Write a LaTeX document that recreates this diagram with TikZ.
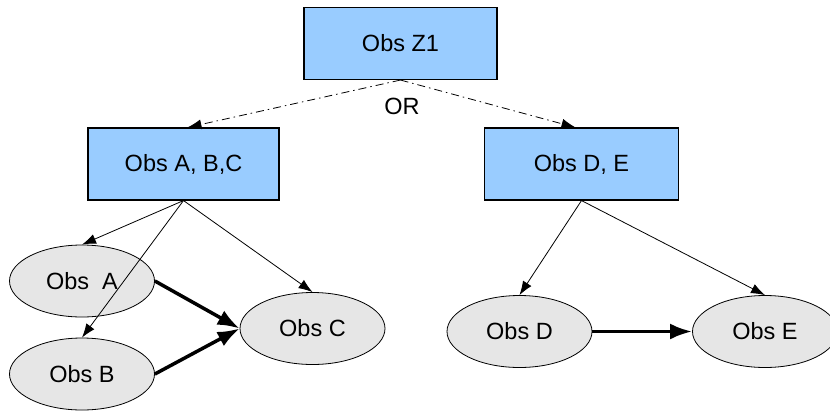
\documentclass[tikz,border=0pt]{standalone}
\usepackage{fontspec}
\setmainfont{Liberation Sans}
\usetikzlibrary{arrows.meta,shapes.geometric}
\definecolor{boxblue}{HTML}{99CCFF}
\definecolor{ellgray}{HTML}{E6E6E6}
\tikzset{
  boxnode/.style={draw=black, line width=1.1pt, fill=boxblue, minimum width=193pt, minimum height=72pt, inner sep=0pt, font=\fontsize{23.5}{27}\selectfont},
  ellnode/.style={ellipse, draw=black, line width=0.8pt, fill=ellgray, minimum width=145pt, minimum height=72pt, inner sep=0pt, font=\fontsize{23.5}{27}\selectfont},
  thinarrow/.style={line width=0.8pt, -{Latex[length=14pt,width=10pt]}},
  thickarrow/.style={line width=3.5pt, -{Latex[length=22pt,width=16pt]}},
  dashdot/.style={line width=0.8pt, dash pattern=on 8pt off 4pt on 1.5pt off 4pt, -{Latex[length=14pt,width=10pt]}},
  lbl/.style={font=\fontsize{23.5}{27}\selectfont, inner sep=0pt}
}
\begin{document}
\begin{tikzpicture}[x=1pt,y=-1pt]
\useasboundingbox (0,0) rectangle (830,410);
\node[boxnode] (z1) at (400.5,43.5) {Obs Z1};
\node[boxnode, minimum width=191pt] (abc) at (183.5,164) {Obs A, B,C};
\node[boxnode, minimum width=194pt] (de) at (581.5,164) {Obs D, E};
\node[lbl] (or) at (402,106) {OR};
\node[ellnode] (ea) at (82,281) {Obs\ \ A};
\node[ellnode] (eb) at (82,374) {Obs B};
\node[ellnode] (ec) at (312.5,328.5) {Obs C};
\node[ellnode] (ed) at (519.5,331.5) {Obs D};
\node[ellnode] (ee) at (765,331.5) {Obs E};
\draw[dashdot] (z1.south) -- ([xshift=4pt]abc.north);
\draw[dashdot] (z1.south) -- ([xshift=-6pt]de.north);
\draw[thinarrow] (abc.south) -- (ea.north);
\draw[thinarrow] (abc.south) -- (eb.north);
\draw[thinarrow] (abc.south) -- (ec.north);
\draw[thinarrow] (de.south) -- (ed.north);
\draw[thinarrow] (de.south) -- (ee.north);
\draw[thickarrow] (ea.east) -- (ec.west);
\draw[thickarrow] (eb.east) -- (ec.west);
\draw[thickarrow] (ed.east) -- (ee.west);
\end{tikzpicture}
\end{document}
